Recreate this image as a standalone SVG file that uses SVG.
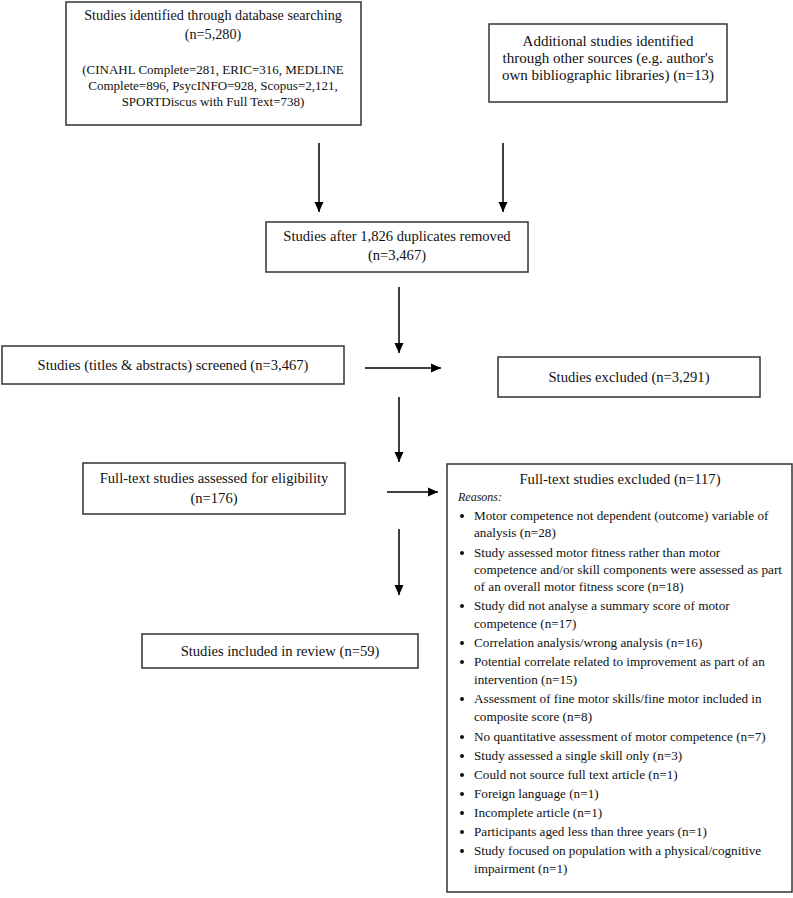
<svg xmlns="http://www.w3.org/2000/svg" width="793" height="898" viewBox="0 0 793 898">
<defs>
<style>
.box{fill:#fff;stroke:#333;stroke-width:1.5}
.t{font-family:"Liberation Serif","Times New Roman",serif;fill:#111;font-size:14.6px}
.c{text-anchor:middle}
.s{font-size:13px}
.b{font-size:13.2px}
.it{font-style:italic;font-size:12px}
.arr{stroke:#000;stroke-width:1.5;fill:none;marker-end:url(#ah)}
</style>
<marker id="ah" markerUnits="userSpaceOnUse" markerWidth="10" markerHeight="10" refX="10" refY="5" orient="auto">
<path d="M0,0.5 L10,5 L0,9.5 Z" fill="#000"/>
</marker>
</defs>
<rect width="793" height="898" fill="#fff"/>
<g id="connectors">
<line class="arr" x1="319" y1="143" x2="319" y2="212"/>
<line class="arr" x1="503" y1="143" x2="503" y2="212"/>
<line class="arr" x1="399" y1="287" x2="399" y2="353"/>
<line class="arr" x1="365" y1="368" x2="441" y2="368"/>
<line class="arr" x1="399" y1="397" x2="399" y2="462"/>
<line class="arr" x1="387" y1="492" x2="438" y2="492"/>
<line class="arr" x1="399" y1="529" x2="399" y2="595"/>
</g>
<g id="n1">
<rect class="box" x="66" y="2" width="295" height="123"/>
<text class="t c" x="213" y="20" style="font-size:14.2px">Studies identified through database searching</text>
<text class="t c" x="213" y="39" style="font-size:14.2px">(n=5,280)</text>
<text class="t c s" x="213" y="74">(CINAHL Complete=281, ERIC=316, MEDLINE</text>
<text class="t c s" x="213" y="90">Complete=896, PsycINFO=928, Scopus=2,121,</text>
<text class="t c s" x="213" y="106">SPORTDiscus with Full Text=738)</text>
</g>
<g id="n2">
<rect class="box" x="489" y="24" width="238" height="78"/>
<text class="t c" x="608" y="46" style="font-size:15px">Additional studies identified</text>
<text class="t c" x="608" y="63" style="font-size:15px">through other sources (e.g. author's</text>
<text class="t c" x="608" y="80" style="font-size:15px">own bibliographic libraries) (n=13)</text>
</g>
<g id="n3">
<rect class="box" x="266" y="222" width="262" height="50"/>
<text class="t c" x="397" y="241">Studies after 1,826 duplicates removed</text>
<text class="t c" x="397" y="260">(n=3,467)</text>
</g>
<g id="n4">
<rect class="box" x="2" y="346" width="342" height="38"/>
<text class="t c" x="173" y="370">Studies (titles &amp; abstracts) screened (n=3,467)</text>
</g>
<g id="n5">
<rect class="box" x="498" y="357" width="262" height="40"/>
<text class="t c" x="629" y="382">Studies excluded (n=3,291)</text>
</g>
<g id="n6">
<rect class="box" x="83" y="463" width="262" height="51"/>
<text class="t c" x="214" y="483">Full-text studies assessed for eligibility</text>
<text class="t c" x="214" y="503">(n=176)</text>
</g>
<g id="n7">
<rect class="box" x="447" y="464" width="345" height="428"/>
<text class="t c" x="620" y="484">Full-text studies excluded (n=117)</text>
<text class="t it" x="458" y="501">Reasons:</text>
<g class="t b">
<circle cx="462" cy="516" r="2"/>
<text x="474" y="520">Motor competence not dependent (outcome) variable of</text>
<text x="474" y="537">analysis (n=28)</text>
<circle cx="462" cy="553" r="2"/>
<text x="474" y="557">Study assessed motor fitness rather than motor</text>
<text x="474" y="574">competence and/or skill components were assessed as part</text>
<text x="474" y="591">of an overall motor fitness score (n=18)</text>
<circle cx="462" cy="606" r="2"/>
<text x="474" y="610">Study did not analyse a summary score of motor</text>
<text x="474" y="628">competence (n=17)</text>
<circle cx="462" cy="643" r="2"/>
<text x="474" y="647">Correlation analysis/wrong analysis (n=16)</text>
<circle cx="462" cy="662" r="2"/>
<text x="474" y="666">Potential correlate related to improvement as part of an</text>
<text x="474" y="684">intervention (n=15)</text>
<circle cx="462" cy="699" r="2"/>
<text x="474" y="703">Assessment of fine motor skills/fine motor included in</text>
<text x="474" y="721">composite score (n=8)</text>
<circle cx="462" cy="737" r="2"/>
<text x="474" y="741">No quantitative assessment of motor competence (n=7)</text>
<circle cx="462" cy="756" r="2"/>
<text x="474" y="760">Study assessed a single skill only (n=3)</text>
<circle cx="462" cy="775" r="2"/>
<text x="474" y="779">Could not source full text article (n=1)</text>
<circle cx="462" cy="794" r="2"/>
<text x="474" y="798">Foreign language (n=1)</text>
<circle cx="462" cy="813" r="2"/>
<text x="474" y="817">Incomplete article (n=1)</text>
<circle cx="462" cy="832" r="2"/>
<text x="474" y="836">Participants aged less than three years (n=1)</text>
<circle cx="462" cy="851" r="2"/>
<text x="474" y="855">Study focused on population with a physical/cognitive</text>
<text x="474" y="873">impairment (n=1)</text>
</g>
</g>
<g id="n8">
<rect class="box" x="142" y="634" width="276" height="34"/>
<text class="t c" x="280" y="656">Studies included in review (n=59)</text>
</g>
</svg>
